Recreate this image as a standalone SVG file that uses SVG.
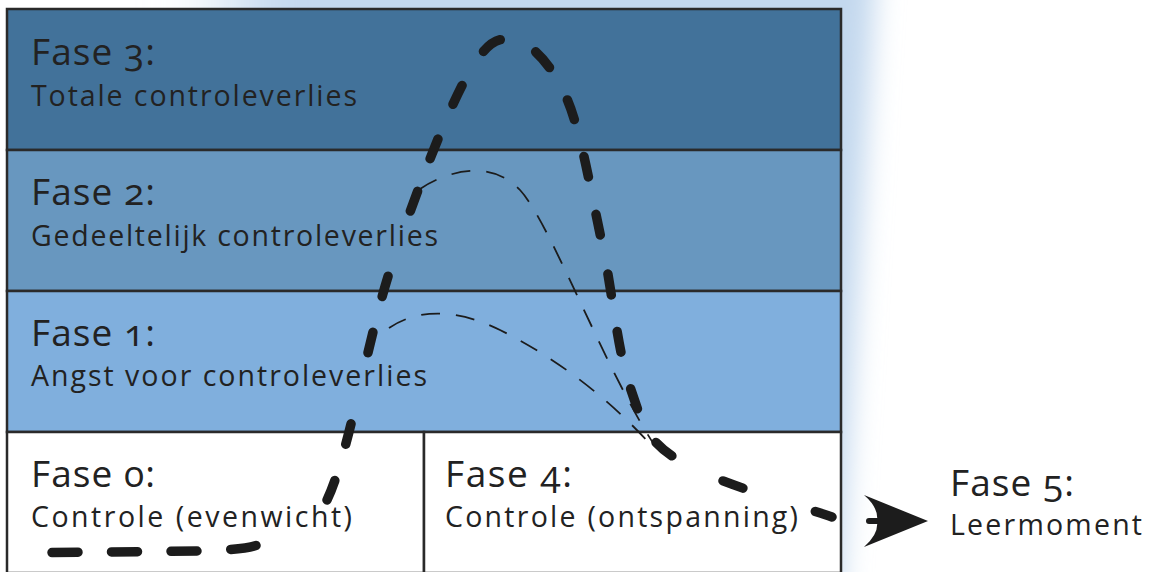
<svg xmlns="http://www.w3.org/2000/svg" width="1154" height="572" viewBox="0 0 1154 572">
  <defs>
    <filter id="blurWide" x="-50%" y="-50%" width="200%" height="200%">
      <feGaussianBlur stdDeviation="40"/>
    </filter>
    <filter id="blurEdge" x="-50%" y="-50%" width="200%" height="200%">
      <feGaussianBlur stdDeviation="14"/>
    </filter>
    <style>
      .lbl { font-family: "Open Sans", "Liberation Sans", sans-serif; fill: #222222; font-variant-numeric: oldstyle-nums; font-feature-settings: "onum" 1; }
      .head { font-size: 37px; }
      .sub { font-size: 28.5px; }
      .cell { stroke: #2a2a2a; stroke-width: 2.5; }
      .thick { fill: none; stroke: #1c1c1c; stroke-width: 9.5; stroke-linecap: round; }
      .thin { fill: none; stroke: #1c1c1c; stroke-width: 1.8; stroke-dasharray: 19 16; }
    </style>
  </defs>

  <rect width="1154" height="572" fill="#ffffff"/>

  <g id="glow">
    <rect x="230" y="-120" width="470" height="420" fill="#c3d8ee" filter="url(#blurWide)"/>
    <polygon points="560,-100 880,-100 838,640 560,640" fill="#c3d8ee" filter="url(#blurEdge)"/>
  </g>

  <g id="fase3">
    <rect class="cell" x="7" y="9" width="834" height="141" fill="#42729a"/>
    <text class="lbl head" x="31" y="65" textLength="124">Fase 3:</text>
    <text class="lbl sub" x="31" y="106" textLength="326">Totale controleverlies</text>
  </g>

  <g id="fase2">
    <rect class="cell" x="7" y="150" width="834" height="141" fill="#6897bf"/>
    <text class="lbl head" x="31" y="205" textLength="124">Fase 2:</text>
    <text class="lbl sub" x="31" y="246" textLength="407">Gedeeltelijk controleverlies</text>
  </g>

  <g id="fase1">
    <rect class="cell" x="7" y="291" width="834" height="141" fill="#80afdd"/>
    <text class="lbl head" x="31" y="346" textLength="124">Fase 1:</text>
    <text class="lbl sub" x="31" y="386" textLength="396">Angst voor controleverlies</text>
  </g>

  <g id="fase0">
    <rect class="cell" x="7" y="432" width="417" height="141" fill="#ffffff"/>
    <text class="lbl head" x="31" y="487" textLength="124">Fase 0:</text>
    <text class="lbl sub" x="31" y="527" textLength="321">Controle (evenwicht)</text>
  </g>

  <g id="fase4">
    <rect class="cell" x="424" y="432" width="417" height="141" fill="#ffffff"/>
    <text class="lbl head" x="445" y="487" textLength="127">Fase 4:</text>
    <text class="lbl sub" x="445" y="527" textLength="353">Controle (ontspanning)</text>
  </g>

  <g id="fase5">
    <text class="lbl head" x="950" y="496" textLength="124">Fase 5:</text>
    <text class="lbl sub" x="950" y="535" textLength="192">Leermoment</text>
  </g>

  <g id="connectors">
    <path class="thick" style="stroke-dasharray: 26 33.5" d="M 52 552.5 L 200 551 Q 240 550 256 545.5"/>
    <path class="thick" style="stroke-dasharray: 21 38 21 73 21 37 21 69 21 35 21 38 21 40 21 39 21 37 21 38 21 38 21 40 21 37 21 38 21 39 21 57 21 76 21 200" d="M 327 500 C 349.2 453.5, 367.8 337.3, 391 267 C 414.2 196.7, 445.3 115.8, 466 78 C 486.7 40.2, 498.2 36.5, 515 40 C 531.8 43.5, 552.5 65.2, 567 99 C 581.5 132.8, 591.5 195, 602 243 C 612.5 291, 617.3 350.8, 630 387 C 642.7 423.2, 644.3 438.3, 678 460 C 711.7 481.7, 798.3 505.3, 832 517"/>
    <path class="thin" d="M 420 189 C 445 172, 490 158, 520 190 C 550 222, 605 370, 655 446"/>
    <path class="thin" d="M 389 328 C 412 312, 450 305, 500 330 C 560 360, 610 400, 652 446"/>
    <line x1="869" y1="521" x2="878" y2="521" stroke="#1c1c1c" stroke-width="6" stroke-linecap="round"/>
    <path d="M 928 521 L 864 495 Q 879 508 877 521 Q 879 534 864 547 Z" fill="#1c1c1c"/>
  </g>
</svg>
